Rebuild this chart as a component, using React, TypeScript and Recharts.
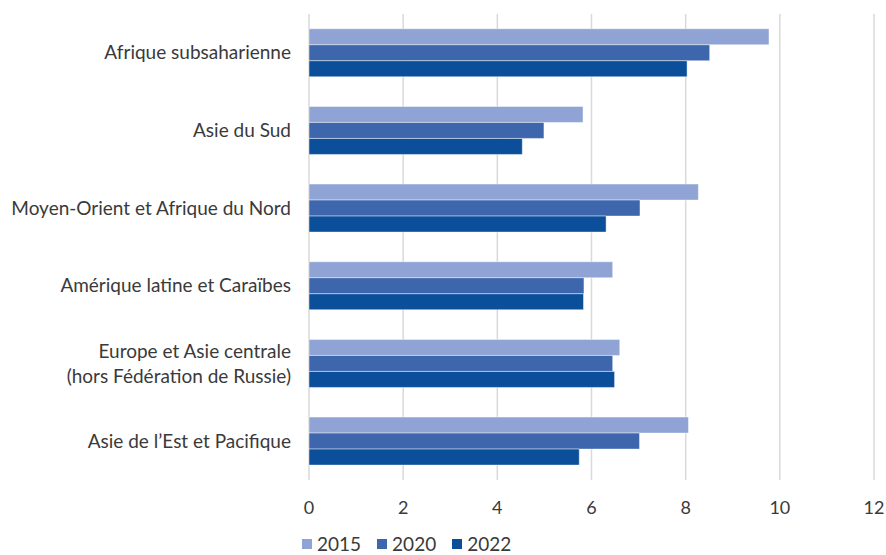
import { Bar, BarChart, CartesianGrid, Legend, XAxis, YAxis } from "recharts";

/* Horizontal grouped bars, three survey years per region. */

const regions = [
  "Afrique subsaharienne",
  "Asie du Sud",
  "Moyen-Orient et Afrique du Nord",
  "Amérique latine et Caraïbes",
  "Europe et Asie centrale\n(hors Fédération de Russie)",
  "Asie de l\u2019Est et Pacifique",
];

const y2015 = [9.77, 5.82, 8.27, 6.45, 6.6, 8.06];
const y2020 = [8.51, 4.99, 7.03, 5.84, 6.45, 7.02];
const y2022 = [8.03, 4.53, 6.31, 5.83, 6.49, 5.74];

const xTicks = [0, 2, 4, 6, 8, 10, 12];

const SERIES = [
  { key: "y2015", name: "2015", color: "#8FA3D4" },
  { key: "y2020", name: "2020", color: "#3D66AD" },
  { key: "y2022", name: "2022", color: "#0B4E99" },
];

const FONT = "Lato, 'Open Sans', sans-serif";
const TEXT = "#3a3a3a";

const data = regions.map((region, i) => ({
  region,
  y2015: y2015[i],
  y2020: y2020[i],
  y2022: y2022[i],
}));

function RegionTick({ x, y, payload }: any) {
  const lines = String(payload.value).split("\n");
  const lh = 25;
  const start = -((lines.length - 1) * lh) / 2;
  return (
    <text x={x} y={y} textAnchor="end" fill={TEXT} fontSize={19} fontFamily={FONT}>
      {lines.map((l, i) => (
        <tspan key={i} x={x} dy={i === 0 ? start + 6.5 : lh}>
          {l}
        </tspan>
      ))}
    </text>
  );
}

function YearLegend() {
  return (
    <div style={{ display: "flex", gap: 16, paddingLeft: 302, paddingTop: 9, fontFamily: FONT, fontSize: 19, color: TEXT, lineHeight: "20px" }}>
      {SERIES.map((s) => (
        <span key={s.key} style={{ display: "inline-flex", alignItems: "center", gap: 5 }}>
          <span style={{ display: "inline-block", width: 10, height: 10, background: s.color }} />
          {s.name}
        </span>
      ))}
    </div>
  );
}

export default function App() {
  return (
    <div style={{ position: "absolute", left: 0, top: 0, width: 886, height: 555, background: "#fff" }}>
      <BarChart
        width={886}
        height={555}
        data={data}
        layout="vertical"
        margin={{ top: 14, right: 12, bottom: 0, left: 0 }}
        barCategoryGap="19%"
        barGap={0}
      >
        <CartesianGrid horizontal={false} stroke="#d9d9d9" strokeWidth={1.5} />
        <XAxis
          type="number"
          domain={[0, 12]}
          ticks={xTicks}
          axisLine={false}
          tickLine={false}
          tickSize={0}
          tickMargin={21}
          height={45}
          tick={{ fill: TEXT, fontSize: 18, fontFamily: FONT }}
        />
        <YAxis
          type="category"
          dataKey="region"
          width={309}
          axisLine={false}
          tickLine={false}
          tickSize={0}
          tickMargin={18}
          tick={<RegionTick />}
          interval={0}
        />
        <Legend verticalAlign="bottom" height={30} content={<YearLegend />} />
        {SERIES.map((s) => (
          <Bar
            key={s.key}
            dataKey={s.key}
            name={s.name}
            fill={s.color}
            stroke="rgba(255,255,255,0.45)"
            strokeWidth={1}
            isAnimationActive={false}
          />
        ))}
      </BarChart>
    </div>
  );
}
